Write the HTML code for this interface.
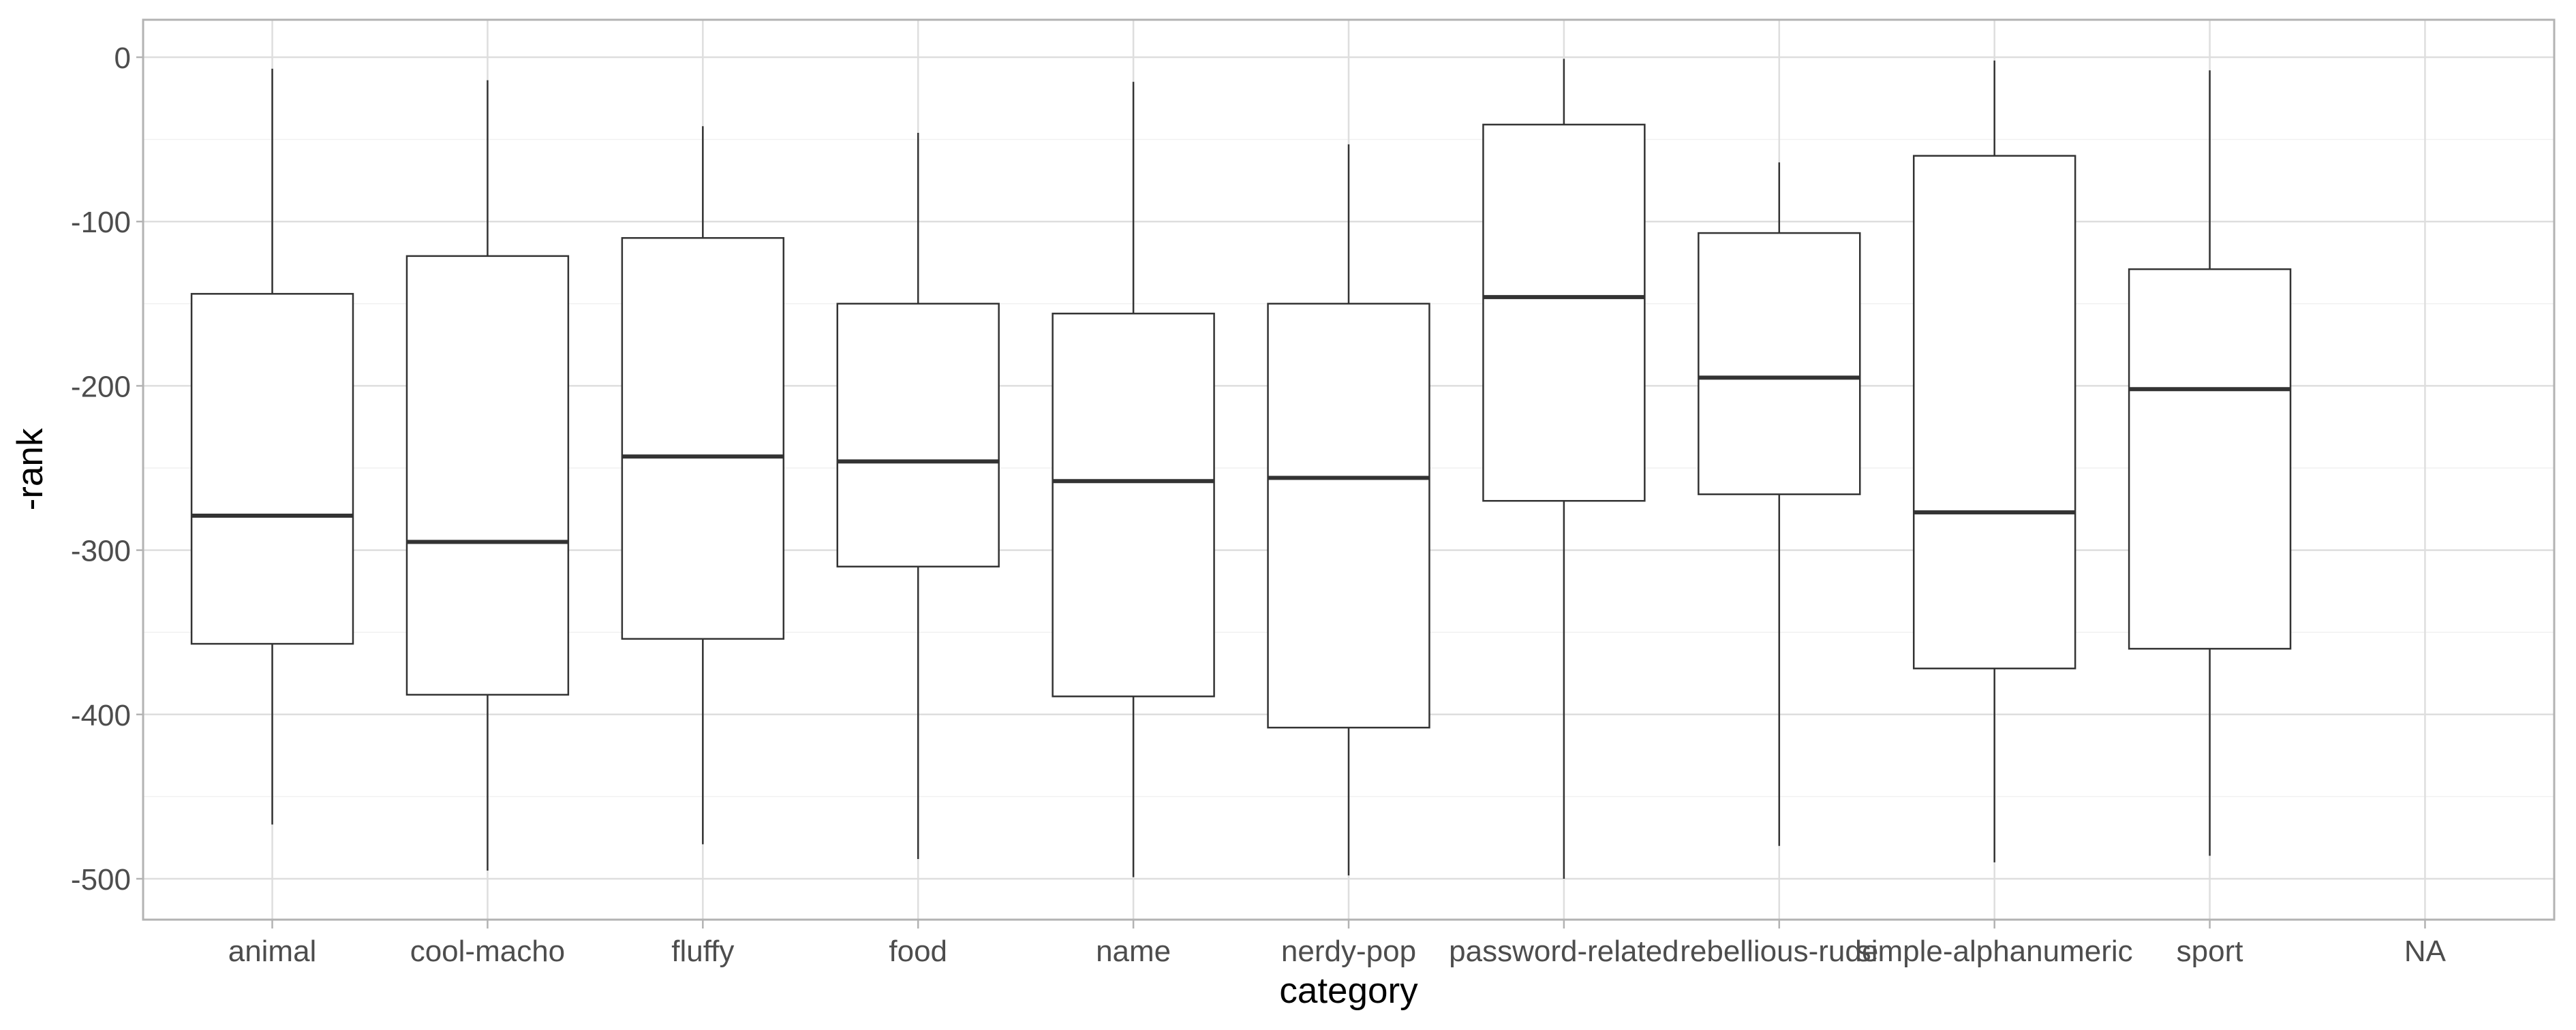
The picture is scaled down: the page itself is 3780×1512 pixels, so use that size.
<!DOCTYPE html>
<html><head><meta charset="utf-8"><style>
html,body{margin:0;padding:0;background:#fff;}
svg{display:block;font-family:"Liberation Sans",Arial,sans-serif;}
</style></head><body>
<svg id="chart" width="3780" height="1512" viewBox="0 0 3780 1512" xmlns="http://www.w3.org/2000/svg">
<rect width="3780" height="1512" fill="#fff"/>
<g id="grid"></g>
<g id="boxes"></g>
<g id="axes"></g>
<text x="1979" y="1472" text-anchor="middle" font-size="53" fill="#000">category</text>
<text transform="translate(62,689) rotate(-90)" text-anchor="middle" font-size="53" fill="#000">-rank</text>
</svg>
<script>
const categories=["animal","cool-macho","fluffy","food","name","nerdy-pop","password-related","rebellious-rude","simple-alphanumeric","sport","NA"];
const whiskerHigh=[-7,-14,-42,-46,-15,-53,-1,-64,-2,-8,null];
const q3=[-144,-121,-110,-150,-156,-150,-41,-107,-60,-129,null];
const medians=[-279,-295,-243,-246,-258,-256,-146,-195,-277,-202,null];
const q1=[-357,-388,-354,-310,-389,-408,-270,-266,-372,-360,null];
const whiskerLow=[-467,-495,-479,-488,-499,-498,-500,-480,-490,-486,null];
const yTicks=[0,-100,-200,-300,-400,-500];
const yMinor=[-50,-150,-250,-350,-450];

const NS="http://www.w3.org/2000/svg";
const L=210,R=3748,T=29,B=1350;
const y=v=>84+(0-v)*2.412;
const step=(R-L)/(categories.length+0.2);
const x=i=>L+step*0.6+i*step;
const bw=step*0.75;
function mk(tag,attrs,parent){const e=document.createElementNS(NS,tag);for(const k in attrs)e.setAttribute(k,attrs[k]);parent.appendChild(e);return e;}
const grid=document.getElementById('grid'),boxes=document.getElementById('boxes'),axes=document.getElementById('axes');
mk('rect',{x:L,y:T,width:R-L,height:B-T,fill:'#fff'},grid);
yMinor.forEach(v=>{const e=mk('line',{x1:L,x2:R,y1:y(v),y2:y(v),stroke:'#f1f1f1','stroke-width':1.5},grid);

});
yTicks.forEach(v=>{const e=mk('line',{x1:L,x2:R,y1:y(v),y2:y(v),stroke:'#dedede','stroke-width':2.5},grid);


const tk=mk('line',{x1:L-10,x2:L,y1:y(v),y2:y(v),stroke:'#b3b3b3','stroke-width':2.5},axes);


const t=mk('text',{x:L-18,y:y(v)+16,'text-anchor':'end','font-size':44,fill:'#4d4d4d'},axes);t.textContent=v;

});
categories.forEach((c,i)=>{const cx=x(i);
const g=mk('line',{x1:cx,x2:cx,y1:T,y2:B,stroke:'#dedede','stroke-width':2.5},grid);


const tk=mk('line',{x1:cx,x2:cx,y1:B,y2:B+13,stroke:'#b3b3b3','stroke-width':2.5},axes);


const t=mk('text',{x:cx,y:1411,'text-anchor':'middle','font-size':44,fill:'#4d4d4d'},axes);t.textContent=c;


if(medians[i]===null)return;
const bx=mk('g',{},boxes);


mk('line',{x1:cx,x2:cx,y1:y(whiskerHigh[i]),y2:y(q3[i]),stroke:'#333','stroke-width':2.5},bx);
mk('line',{x1:cx,x2:cx,y1:y(q1[i]),y2:y(whiskerLow[i]),stroke:'#333','stroke-width':2.5},bx);
mk('rect',{x:cx-bw/2,y:y(q3[i]),width:bw,height:y(q1[i])-y(q3[i]),fill:'#fff',stroke:'#333','stroke-width':2.5},bx);
mk('line',{x1:cx-bw/2,x2:cx+bw/2,y1:y(medians[i]),y2:y(medians[i]),stroke:'#333','stroke-width':6},bx);});
const border=mk('rect',{x:L,y:T,width:R-L,height:B-T,fill:'none',stroke:'#b3b3b3','stroke-width':3},axes);


</script>
</body></html>
